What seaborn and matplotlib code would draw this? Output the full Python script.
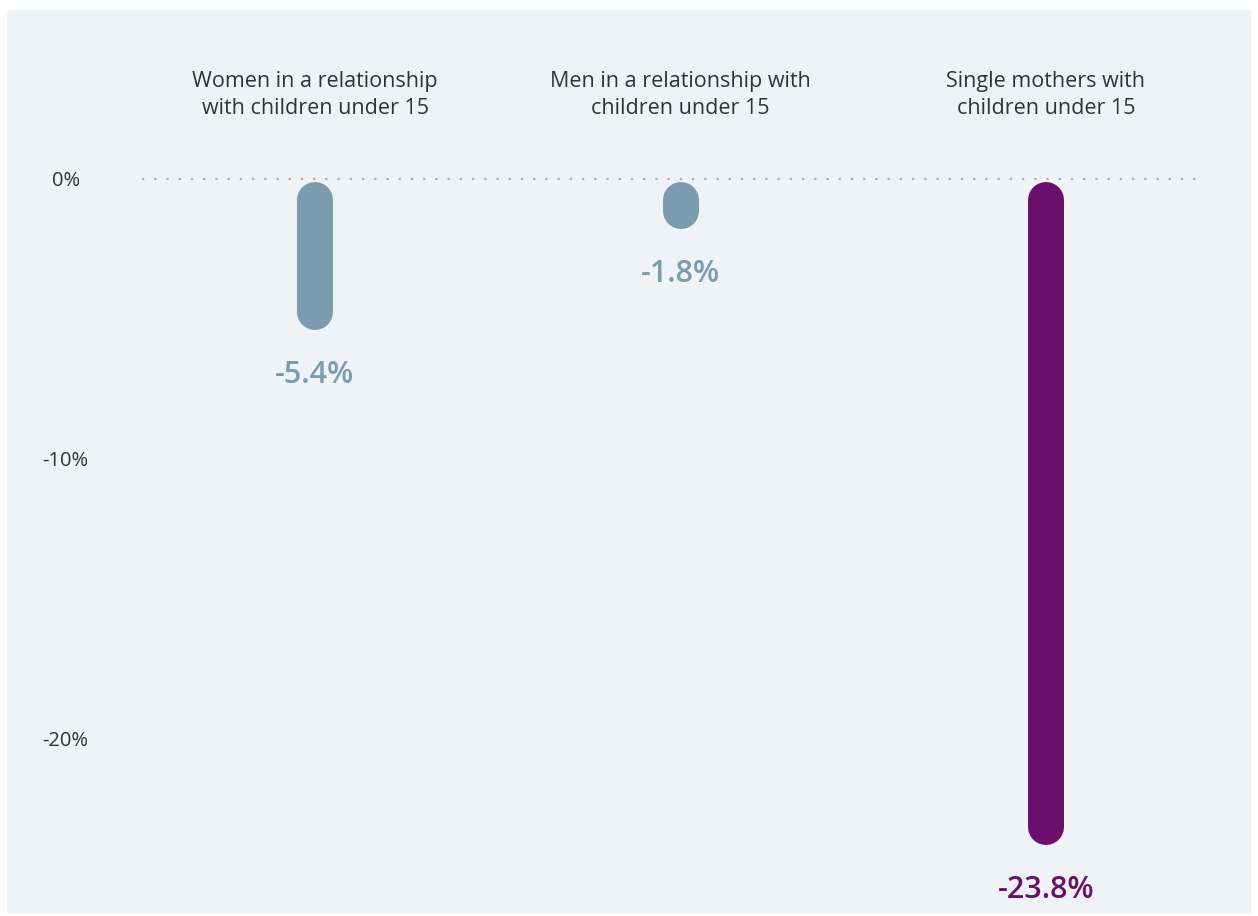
import matplotlib.pyplot as plt
import matplotlib.patches as mpatches
import seaborn as sns
import pandas as pd

# data
categories = ['Women in a relationship\nwith children under 15',
              'Men in a relationship with\nchildren under 15',
              'Single mothers with\nchildren under 15']
values = [-5.4, -1.8, -23.8]
bar_colors = ['#7a9cad', '#7a9cad', '#6a0f6b']
tick_vals = [0, -10, -20]
tick_labels = ['0%', '-10%', '-20%']

sns.set_theme(style='white')
plt.rcParams['font.family'] = ['Open Sans', 'DejaVu Sans']

W, H = 1258, 916
fig = plt.figure(figsize=(W / 100, H / 100), dpi=100)
fig.patch.set_facecolor('white')
bg = '#eff3f7'
fig.patches.append(mpatches.Rectangle((7 / W, 4 / H), 1243 / W, 902 / H,
                                      transform=fig.transFigure, color=bg, zorder=-5))

# axes placed in pixel terms
left, right, top, bottom = 142, 1198, 60, 905
ax = fig.add_axes([left / W, (H - bottom) / H, (right - left) / W, (bottom - top) / H])
ax.set_facecolor('none')

px_per_unit = 28.0  # pixels per percentage point
ax.set_ylim(-(bottom - 179) / px_per_unit, (179 - top) / px_per_unit)
unit_x = 365.5
ax.set_xlim(-(315 - left) / unit_x, 2 + (right - 1046) / unit_x)

# zero reference line
ax.axhline(0, color='#a9adb0', lw=1.6, ls=(0, (1, 4.5)), zorder=1)

# rounded bars via line segments with round caps
lw_px = 36
r = (lw_px / 2) / px_per_unit
rows = []
for i, (cat, v) in enumerate(zip(categories, values)):
    start = -(0.1 + r)
    end = min(v + r, start)
    rows.append({'pos': i, 'val': start, 'group': cat})
    rows.append({'pos': i, 'val': end, 'group': cat})
df = pd.DataFrame(rows)

sns.lineplot(data=df, x='pos', y='val', hue='group', units='group',
             estimator=None, sort=False, palette=bar_colors,
             linewidth=lw_px * 0.72, solid_capstyle='round', legend=False, ax=ax)

# value labels
for i, v in enumerate(values):
    ax.text(i, v - 1.6, f'{v:.1f}%', ha='center', va='center',
            fontsize=22, fontweight='semibold', color=bar_colors[i])

# category titles
for i, cat in enumerate(categories):
    ax.text(i, 3.0, cat, ha='center', va='center', fontsize=15.5,
            color='#333333', linespacing=1.4)

ax.set_yticks(tick_vals)
ax.set_yticklabels(tick_labels, fontsize=14.5, color='#333333', ha='center')
ax.tick_params(axis='y', length=0, pad=55)
ax.set_xticks([])
ax.set_xlabel('')
ax.set_ylabel('')
sns.despine(ax=ax, left=True, bottom=True)

fig.savefig('out.png', dpi=100, facecolor='white')
